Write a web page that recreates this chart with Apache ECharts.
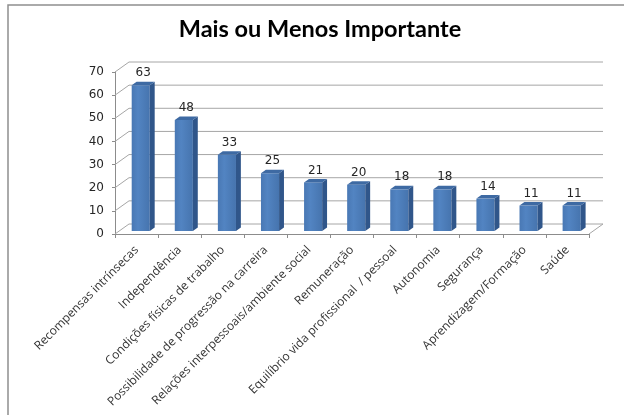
<!DOCTYPE html>
<html>
<head>
<meta charset="utf-8">
<script src="https://cdn.jsdelivr.net/npm/echarts@6/dist/echarts.min.js"></script>
<style>
  html, body { margin: 0; padding: 0; background: #fff; }
  #chart { width: 624px; height: 415px; }
</style>
</head>
<body>
<div id="chart"></div>
<script>
const chartTitle = 'Mais ou Menos Importante';
const categories = [
  'Recompensas intrínsecas',
  'Independência',
  'Condições físicas de trabalho',
  'Possibilidade de progressão na carreira',
  'Relações interpessoais/ambiente social',
  'Remuneração',
  'Equilíbrio vida profissional  / pessoal',
  'Autonomia',
  'Segurança',
  'Aprendizagem/Formação',
  'Saúde'
];
const values = [63, 48, 33, 25, 21, 20, 18, 18, 14, 11, 11];
const yTicks = [0, 10, 20, 30, 40, 50, 60, 70];

// pseudo-3D depth of the plot box (back wall offset from the front plane)
const DEPTH_X = 14;
const DEPTH_Y = -10;
// bars sit between these fractions of the depth
const BAR_NEAR = 0.3;
const BAR_FAR = 0.65;
const BAR_WIDTH_RATIO = 0.42;

const WALL_COLOR = '#a6a6a6';
const AXIS_COLOR = '#8c8c8c';

const chart = echarts.init(document.getElementById('chart'), null, { renderer: 'canvas' });

function renderWall(params, api) {
  const cs = params.coordSys;
  const v = api.value(1);
  const y = api.coord([0, v])[1];
  const x0 = cs.x, x1 = cs.x + cs.width;
  const style = { stroke: WALL_COLOR, lineWidth: 1 };
  const children = [
    { type: 'line', shape: { x1: x0, y1: y, x2: x0 + DEPTH_X, y2: y + DEPTH_Y }, style },
    { type: 'line', shape: { x1: x0 + DEPTH_X, y1: y + DEPTH_Y, x2: x1 + DEPTH_X, y2: y + DEPTH_Y }, style }
  ];
  if (v === 0) {
    children.push({ type: 'line', shape: { x1: x1, y1: y, x2: x1 + DEPTH_X, y2: y + DEPTH_Y }, style });
  }
  return { type: 'group', children };
}

function renderBar(params, api) {
  const i = api.value(0);
  const v = api.value(1);
  const top = api.coord([i, v]);
  const base = api.coord([i, 0]);
  const w = api.size([1, 0])[0] * BAR_WIDTH_RATIO;
  const fx = top[0] - w / 2 + DEPTH_X * BAR_NEAR;
  const yT = top[1] + DEPTH_Y * BAR_NEAR;
  const yB = base[1] + DEPTH_Y * BAR_NEAR;
  const dx = DEPTH_X * (BAR_FAR - BAR_NEAR);
  const dy = DEPTH_Y * (BAR_FAR - BAR_NEAR);
  return {
    type: 'group',
    children: [
      {
        type: 'rect',
        shape: { x: fx, y: yT, width: w, height: yB - yT },
        style: {
          fill: new echarts.graphic.LinearGradient(0, 0, 1, 0, [
            { offset: 0, color: '#4978b4' },
            { offset: 0.35, color: '#5284c2' },
            { offset: 1, color: '#4674ae' }
          ])
        }
      },
      {
        type: 'polygon',
        shape: { points: [[fx + w, yT], [fx + w + dx, yT + dy], [fx + w + dx, yB + dy], [fx + w, yB]] },
        style: { fill: '#30568a' }
      },
      {
        type: 'polygon',
        shape: { points: [[fx, yT], [fx + dx, yT + dy], [fx + w + dx, yT + dy], [fx + w, yT]] },
        style: { fill: '#3e6aa3' }
      },
      {
        type: 'text',
        style: {
          x: fx + w / 2 + dx / 2,
          y: yT - 12,
          text: String(v),
          align: 'center',
          verticalAlign: 'middle',
          fill: '#262626',
          font: '12px "DejaVu Sans"'
        }
      }
    ]
  };
}

chart.setOption({
  animation: false,
  backgroundColor: '#ffffff',
  graphic: [
    {
      type: 'polyline',
      shape: { points: [[8, 415], [8, 5], [624, 5]] },
      style: { stroke: '#8f8f8f', lineWidth: 1.5, fill: null },
      silent: true
    },
    {
      type: 'text',
      x: 320,
      y: 29,
      style: {
        text: chartTitle,
        align: 'center',
        verticalAlign: 'middle',
        fill: '#000',
        font: 'bold 23.5px Lato'
      },
      silent: true
    }
  ],
  grid: { left: 115, right: 35, top: 72, bottom: 181 },
  xAxis: {
    type: 'category',
    data: categories,
    axisLine: { lineStyle: { color: AXIS_COLOR } },
    axisTick: { show: true, length: 4, lineStyle: { color: AXIS_COLOR } },
    axisLabel: {
      rotate: 45,
      interval: 0,
      margin: 14,
      color: '#333333',
      fontFamily: 'Open Sans',
      fontSize: 12
    }
  },
  yAxis: {
    type: 'value',
    min: 0,
    max: 70,
    interval: 10,
    axisLine: { show: true, lineStyle: { color: AXIS_COLOR } },
    axisTick: { show: true, length: 3, lineStyle: { color: AXIS_COLOR } },
    splitLine: { show: false },
    axisLabel: { margin: 11, color: '#262626', fontFamily: 'DejaVu Sans', fontSize: 12 }
  },
  series: [
    {
      type: 'custom',
      name: 'wall',
      data: yTicks.map(v => [0, v]),
      renderItem: renderWall,
      silent: true,
      z: 1
    },
    {
      type: 'custom',
      name: 'values',
      data: values.map((v, i) => [i, v]),
      renderItem: renderBar,
      z: 3
    }
  ]
});
</script>
</body>
</html>
